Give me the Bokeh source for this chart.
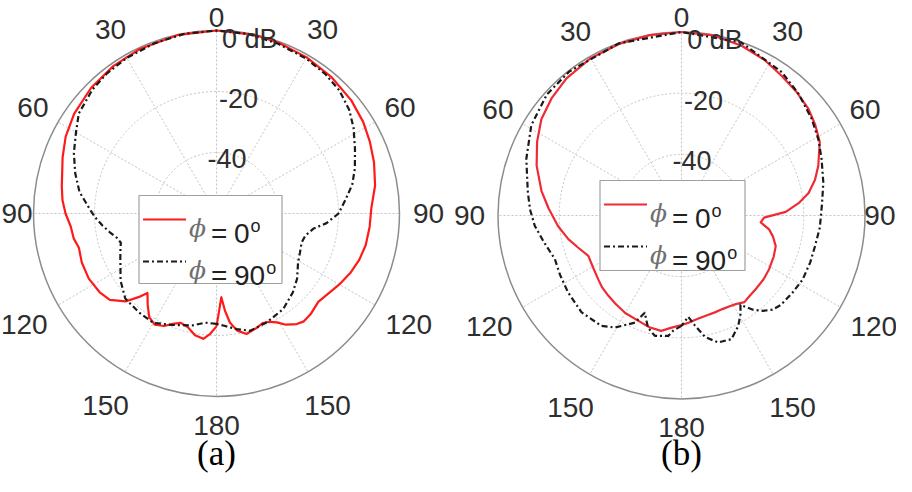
import numpy as np
from bokeh.plotting import figure
from bokeh.models import Range1d
from bokeh.embed import file_html
from bokeh.resources import INLINE
from bokeh.core.properties import value

# ---------------- data (angle in degrees, clockwise from top; gain in dB) -------------
a_phi0_theta = [-180, -177, -174, -170, -166, -162, -159, -155, -151, -147, -143, -139, -137, -134,
                -129, -124, -117, -110, -104, -100, -95, -90, -85, -80, -70, -63, -55, -45, -35, -25,
                -12, 0, 12, 20, 30, 40, 50, 58, 65, 72, 80, 88, 95, 102, 108, 114, 120, 125, 131,
                137, 141, 144, 148, 151, 154, 157, 161, 166, 170, 173, 175, 176.7, 178.5, 180]
a_phi0_db = [-23, -20.5, -18.7, -19.5, -21.5, -22.3, -21.3, -19.3, -18.3, -19.5, -22.5, -25.5, -22.5,
             -18.5, -15, -13.8, -13, -13, -13.5, -12.5, -12, -10.5, -9.3, -8.5, -6.3, -4.5, -3, -1.8,
             -1, -0.5, -0.1, 0, -0.1, -0.4, -0.9, -1.5, -2.3, -3.3, -4.5, -5.7, -7.2, -9.2, -9.6, -10,
             -10.8, -12, -13.5, -14.8, -15.8, -14.8, -14.5, -15.2, -17, -19.2, -20.5, -21, -20.2,
             -19.3, -21, -24, -28, -32.5, -28, -23]

a_phi90_theta = [-180, -174, -168, -158, -150, -142, -133, -125, -119, -115, -110, -107, -104, -100,
                 -96, -92, -88, -81, -74, -67, -60, -54, -45, -38, -30, -20, -10, 0, 10, 20, 30, 38,
                 45, 52, 58, 65, 72, 78, 84, 90, 95, 99, 104, 109, 115, 121, 129, 136, 145, 155, 164,
                 170, 176, 180]
a_phi90_db = [-23.8, -24, -22.5, -20.6, -18.6, -18.8, -19.1, -21.6, -24, -25.2, -26.5, -27.2, -26.5,
              -24.5, -22.4, -20.3, -18.4, -14.5, -11.8, -9.2, -6.8, -4.2, -2.5, -1.7, -1.1, -0.6,
              -0.15, 0, -0.2, -0.8, -1.3, -2, -3, -4.8, -7, -9.9, -12.3, -14.5, -17.5, -20, -23.8,
              -27.9, -30, -30.5, -29.8, -28.8, -26, -24, -21.8, -20.7, -20, -21.5, -23.1, -23.8]

b_phi0_theta = [-180, -175, -170, -164, -159.5, -150, -143, -137.7, -132, -127.5, -120, -113.4, -107,
                -101.8, -95, -87, -80, -71, -63, -55.5, -48, -40, -30, -20, -10, 0, 10, 19.5, 28,
                35.6, 43, 50, 56, 62, 70, 75, 80, 84, 88, 91.5, 95, 99, 103, 108, 114, 121.5, 128,
                135, 140, 144, 148.5, 152, 156.4, 161, 166.4, 171, 176, 180]
b_phi0_db = [-24.2, -23.2, -21.7, -22, -22.6, -23.2, -24, -24.5, -25, -25.7, -26.5, -26.8, -24.5,
             -22.2, -19.5, -16.5, -13.5, -9.9, -7, -4.4, -2.8, -1.5, -0.6, -0.3, -0.1, 0, -0.2,
             -1.1, -2.3, -3.8, -4.8, -5.8, -7.2, -8.8, -12.4, -14.8, -17.8, -21.5, -25.9, -33, -34,
             -31, -29.3, -27.6, -27, -26.4, -26, -25.8, -25.5, -25, -26, -26.4, -26.6, -26.5, -26.3,
             -25.8, -24.9, -24.2]

b_phi90_theta = [-180, -176, -173.7, -167.5, -163.4, -159.3, -156.5, -149.3, -144, -134, -124, -116,
                 -109, -101, -94, -88, -81.5, -70, -59, -48, -38, -20, 0, 19, 35, 44, 53.5, 61, 68,
                 77, 86, 95, 102.8, 110, 118, 125, 132, 136, 139.5, 143, 146.6, 149, 152.8, 158,
                 163.9, 169, 173, 176.2, 178, 180]
b_phi90_db = [-23.9, -22.3, -20.4, -19.7, -21.7, -26, -21.8, -17.4, -15.4, -14.5, -15.2, -15.8, -16.2,
              -14.2, -11.9, -10.5, -9.2, -6, -2.7, -0.8, -0.3, -0.1, 0, -0.1, -2.8, -4.8, -7, -8.8,
              -10.6, -12.4, -14, -14.6, -15.2, -15.2, -15.2, -15.8, -16.3, -17.2, -19, -21.5, -25,
              -22.5, -19.4, -16.4, -16.8, -19.5, -23.7, -26.8, -25.5, -23.9]

ring_db = [0, -20, -40]
ring_labels = ["0 dB", "-20", "-40"]
angle_ticks = [0, 30, 60, 90, 120, 150, 180]
legend_values = ["0", "90"]
panel_labels = ["(a)", "(b)"]
DB_MIN = -60.0

# ---------------- figure ----------------
W, H = 896, 476
p = figure(width=W, height=H, x_range=Range1d(0, W), y_range=Range1d(H, 0),
           output_backend="svg", toolbar_location=None, min_border=0,
           x_axis_location=None, y_axis_location=None)
p.xgrid.visible = False
p.ygrid.visible = False
p.outline_line_color = None
p.background_fill_color = "white"

SANS = value("Liberation Sans")
LABEL_COL = "#2e2e2e"


def to_xy(cx, cy, R, theta_deg, db):
    t = np.radians(np.asarray(theta_deg, dtype=float))
    d = np.clip(np.asarray(db, dtype=float), DB_MIN, 0)
    r = R * (d - DB_MIN) / (-DB_MIN)
    return cx + r * np.sin(t), cy - r * np.cos(t)


def polar_panel(cx, cy, R, series, legend_box, label):
    # spokes
    sp = np.arange(0, 360, 30)
    xs, ys = to_xy(cx, cy, R, sp, np.zeros(len(sp)))
    p.segment(x0=[cx] * len(sp), y0=[cy] * len(sp), x1=xs, y1=ys,
              line_color="#c4c4c4", line_width=1, line_dash="2 2")
    # rings
    for d in ring_db[1:]:
        rr = R * (d - DB_MIN) / (-DB_MIN)
        p.circle(x=[cx], y=[cy], radius=rr, fill_color=None,
                 line_color="#c4c4c4", line_width=1, line_dash="2 2")
    p.circle(x=[cx], y=[cy], radius=R, fill_color=None, line_color="#8c8c8c", line_width=1.5)

    # curves
    for (th, db, col, dash) in series:
        x, y = to_xy(cx, cy, R, th, db)
        p.line(x, y, line_color=col, line_width=2.2, line_dash=dash, line_join="round")

    # ring labels
    t = np.radians(10.8)
    for d, txt in zip(ring_db, ring_labels):
        rr = R * (d - DB_MIN) / (-DB_MIN) - 5
        p.text(x=[cx + rr * np.sin(t)], y=[cy - rr * np.cos(t)], text=[txt],
               text_font=SANS, text_font_size="27px", text_color=LABEL_COL,
               text_align="center", text_baseline="middle")

    # angle labels
    for a in angle_ticks:
        sides = [a] if a in (0, 180) else [a, -a]
        for s in sides:
            rl = 222 if a in (120, 150) else (207 if a == 0 else 212)
            ts = np.radians(s)
            lx, ly = cx + rl * np.sin(ts), cy - rl * np.cos(ts)
            align = "center"
            if lx - 16 < 0:
                lx, align = 1, "left"
            if lx + 16 > W:
                lx, align = W - 1, "right"
            ly = max(ly, 17)
            p.text(x=[lx], y=[ly], text=[str(a)], text_font=SANS, text_font_size="28px",
                   text_color=LABEL_COL, text_align=align, text_baseline="middle")

    # legend (drawn as box + samples + texts)
    bx, by, bw, bh = legend_box
    p.quad(left=[bx], right=[bx + bw], top=[by], bottom=[by + bh],
           fill_color="white", line_color="#a0a0a0", line_width=1.2)
    rows = [by + 24, by + 66]
    for (th, db, col, dash), val, ry in zip(series, legend_values, rows):
        p.line([bx + 4, bx + 47], [ry, ry], line_color=col, line_width=2.2, line_dash=dash)
        p.text(x=[bx + 50], y=[ry + 9], text=["\u03d5"], text_font=value("DejaVu Serif"),
               text_font_style="italic", text_font_size="25px", text_color="#707070",
               text_align="left", text_baseline="middle")
        p.text(x=[bx + 72], y=[ry + 14], text=["="], text_font=SANS,
               text_font_size="28px", text_color="#222222",
               text_align="left", text_baseline="alphabetic")
        p.text(x=[bx + 95], y=[ry + 14], text=[val], text_font=SANS,
               text_font_size="28px", text_color="#222222",
               text_align="left", text_baseline="alphabetic")
        p.text(x=[bx + 96 + 15.6 * len(val)], y=[ry + 6], text=["o"], text_font=SANS,
               text_font_size="18px", text_color="#222222",
               text_align="left", text_baseline="alphabetic")

    p.text(x=[cx], y=[453], text=[label], text_font=value("Liberation Serif"),
           text_font_size="35px", text_color="black", text_align="center",
           text_baseline="middle")


DASHDOT = "6 3 2 3"
polar_panel(216, 213, 183, [(a_phi0_theta, a_phi0_db, "#ff1a1a", "solid"),
                            (a_phi90_theta, a_phi90_db, "#1a1a1a", DASHDOT)],
            (138.5, 195, 143, 88), panel_labels[0])
polar_panel(681, 215, 183.5, [(b_phi0_theta, b_phi0_db, "#f02a35", "solid"),
                              (b_phi90_theta, b_phi90_db, "#1a1a1a", DASHDOT)],
            (599.5, 180, 145, 90), panel_labels[1])

open("out.html", "w").write(file_html(p, INLINE))
